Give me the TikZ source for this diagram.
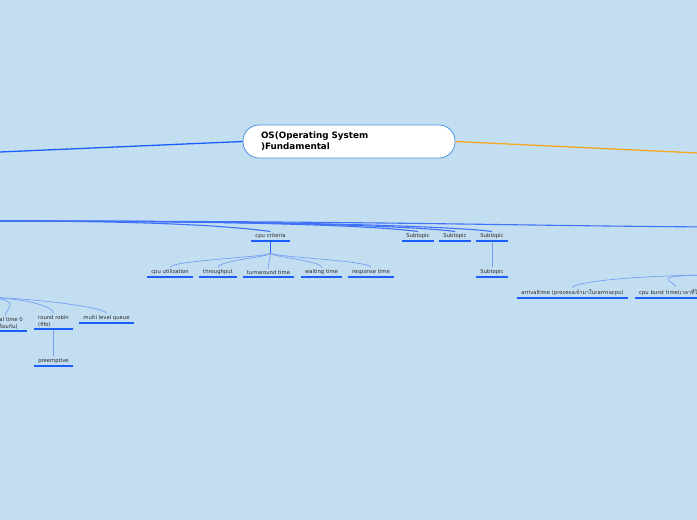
\documentclass[tikz,border=0pt]{standalone}
\usepackage{fontspec}
\setmainfont{DejaVu Sans}
\newfontfamily\thaifont[Script=Thai]{Loma}
\definecolor{bgblue}{RGB}{195,222,241}
\definecolor{linkblue}{RGB}{28,94,250}
\definecolor{bundleblue}{RGB}{64,114,248}
\definecolor{softblue}{RGB}{118,160,246}
\definecolor{rootedge}{RGB}{74,150,222}
\definecolor{orangeline}{RGB}{246,166,35}
\definecolor{labelgray}{RGB}{40,40,40}
\begin{document}
\begin{tikzpicture}[x=1pt,y=-1pt,
  root/.style={draw=rootedge,fill=white,rounded corners=16pt,line width=0.8pt,minimum width=212pt,minimum height=33pt,text width=176pt,inner xsep=18pt,align=left,font=\fontsize{8.8}{11}\selectfont\bfseries},
  topic/.style={inner xsep=4pt,inner ysep=2pt,text=labelgray,font=\fontsize{5.3}{6.5}\selectfont},
  uline/.style={linkblue,line width=1.3pt},
  conn/.style={softblue,line width=0.7pt},
  bundle/.style={bundleblue,line width=1.1pt}]
\useasboundingbox (0,0) rectangle (697,520);
\fill[bgblue] (0,0) rectangle (697,520);
\clip (0,0) rectangle (697,520);

% main branches
\coordinate (leftend) at (-5,152.2);
\coordinate (rightend) at (702,153.2);
\node[root] (os) at (349,141.5) {OS(Operating System\\)Fundamental};
\draw[linkblue,line width=1.3pt] (os.west) -- (leftend);
\draw[orangeline,line width=1.3pt] (os.east) -- (rightend);

% first row
\node[topic,anchor=south] (crit) at (270.5,241) {cpu criteria};
\node[topic,anchor=south] (subA) at (418,241) {Subtopic};
\node[topic,anchor=south] (subB) at (455,241) {Subtopic};
\node[topic,anchor=south] (subC) at (492,241) {Subtopic};

\coordinate (schedin) at (-5,221);
\coordinate (farright) at (720,227);
\draw[bundle] (schedin) .. controls +(180,0) and +(-30,-4) .. (crit.north);
\draw[bundle] (schedin) .. controls +(300,0) and +(-30,-4) .. (subA.north);
\draw[bundle] (schedin) .. controls +(320,0) and +(-30,-4) .. (subB.north);
\draw[bundle] (schedin) .. controls +(340,0) and +(-30,-4) .. (subC.north);
\draw[bundle] (schedin) .. controls +(400,0) and +(-200,-1) .. (farright);

% cpu criteria
\node[topic,anchor=south] (util) at (170,277) {cpu utilization};
\node[topic,anchor=south] (thru) at (218,277) {throughput};
\node[topic,anchor=south] (turn) at (268.5,277) {turnaround time};
\node[topic,anchor=south] (wait) at (321.5,277) {waiting time};
\node[topic,anchor=south] (resp) at (371,277) {response time};
\draw[linkblue,line width=1pt] (crit.south) -- ++(0,12) coordinate (critfork);
\foreach \c in {util,thru,turn,wait,resp}
  \draw[conn] (critfork) .. controls +(0,4) and +(0,-7) .. (\c.north);

\node[topic,anchor=south] (subCa) at (492,277) {Subtopic};
\draw[conn] (subC.south) -- (subCa.north);

% lower left
\node[topic,anchor=south,align=left] (arr0) at (5,331) {arrival time 0\\({\thaifont มาพร้อมกัน})};
\node[topic,anchor=south,align=left] (rr) at (53.5,329) {round robin\\(fifo)};
\node[topic,anchor=south] (mlq) at (106.5,323) {multi level queue};
\node[topic,anchor=south] (pre) at (53.5,366) {preemptive};
\coordinate (lowin) at (-30,297);
\foreach \c in {arr0,rr,mlq}
  \draw[conn] (lowin) .. controls +(60,0) and +(0,-6) .. (\c.north);
\draw[conn] (rr.south) -- (pre.north);

% lower right
\node[topic,anchor=south] (arr) at (572.5,298) {arrivaltime (process{\thaifont เข้ามาใน}ram{\thaifont รอ}cpu)};
\node[topic,anchor=south west] (burst) at (635,298) {cpu burst time({\thaifont เวลาที่ใช้}cpu)};
\coordinate (rightin) at (720,275);
\foreach \c in {arr,burst}
  \draw[conn] (rightin) .. controls +(-80,0) and +(0,-6) .. (\c.north);

\foreach \n in {crit,subA,subB,subC,util,thru,turn,wait,resp,subCa,arr0,rr,mlq,pre,arr,burst}
  \draw[uline] (\n.south west) -- (\n.south east);
\end{tikzpicture}
\end{document}
